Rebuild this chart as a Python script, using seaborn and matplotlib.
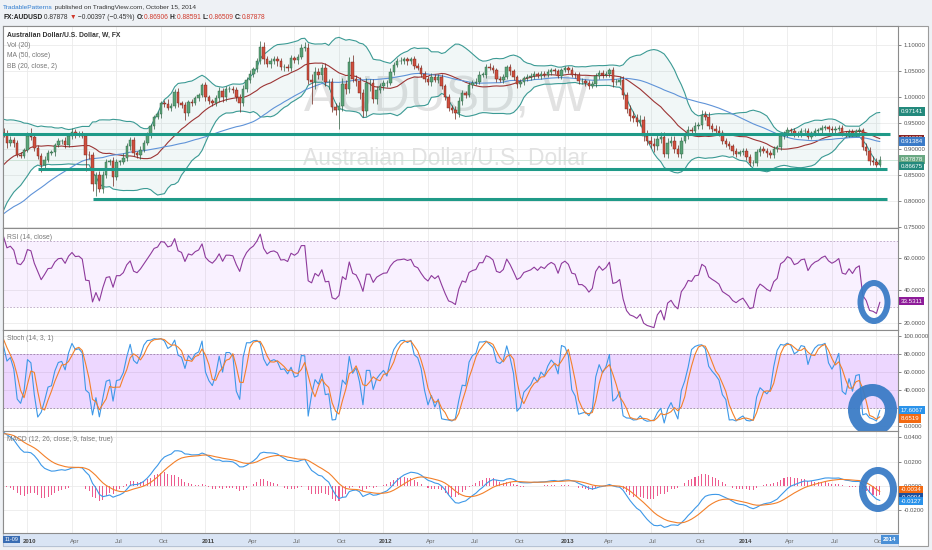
import numpy as np
import pandas as pd
import matplotlib
matplotlib.use('Agg')
import matplotlib.pyplot as plt
import matplotlib.patches as mpatches
import matplotlib.transforms as mtransforms
from matplotlib.ticker import FormatStrFormatter
import seaborn as sns

# weekly closes before the visible window (only used to warm up MA50 / BB / MACD)
warmup_close = [0.6530, 0.6420, 0.6600, 0.6920, 0.6920, 0.7180, 0.7020, 0.6720, 0.6480, 0.6370,
                0.6640, 0.6580, 0.6430, 0.6380, 0.6330, 0.6560, 0.6840, 0.6950, 0.7190, 0.7190,
                0.7070, 0.7230, 0.7280, 0.7530, 0.7440, 0.7800, 0.8010, 0.7990, 0.8060, 0.7920,
                0.8080, 0.7850, 0.7800, 0.8050, 0.8170, 0.8350, 0.8400, 0.8330, 0.8380, 0.8420,
                0.8600, 0.8670, 0.8790, 0.8690, 0.8810, 0.9020, 0.9240, 0.9180, 0.9030, 0.9280,
                0.9310]

# visible weekly closes, first week 2009-11-16
close_2009 = [0.9290, 0.9120, 0.9170, 0.9110, 0.8890, 0.8870, 0.8970]
close_2010 = [0.9250, 0.9230, 0.9020, 0.8860, 0.8680, 0.8790, 0.8920, 0.8930, 0.9070, 0.9150,
              0.9160, 0.9080, 0.9240, 0.9330, 0.9270, 0.9280, 0.9240, 0.8890, 0.8880, 0.8330,
              0.8500, 0.8220, 0.8490, 0.8740, 0.8760, 0.8450, 0.8750, 0.8750, 0.8830, 0.9050,
              0.9170, 0.8920, 0.8880, 0.8980, 0.9120, 0.9270, 0.9430, 0.9620, 0.9670, 0.9880,
              0.9870, 0.9790, 0.9830, 1.0090, 0.9880, 0.9850, 0.9680, 0.9900, 0.9880, 0.9980,
              1.0030, 1.0225]
close_2011 = [0.9990, 0.9920, 0.9880, 0.9970, 1.0120, 0.9990, 1.0150, 1.0150, 1.0140, 1.0000,
              0.9880, 1.0150, 1.0330, 1.0450, 1.0530, 1.0690, 1.0970, 1.0730, 1.0630, 1.0700,
              1.0720, 1.0690, 1.0570, 1.0580, 1.0550, 1.0740, 1.0710, 1.0770, 1.0950, 1.0950,
              1.0330, 1.0280, 1.0480, 1.0420, 1.0560, 1.0280, 1.0290, 0.9800, 0.9750, 0.9820,
              1.0240, 1.0160, 1.0680, 1.0350, 1.0300, 1.0080, 0.9720, 1.0260, 1.0260, 0.9960,
              1.0130, 1.0200]
close_2012 = [1.0260, 1.0270, 1.0480, 1.0620, 1.0690, 1.0700, 1.0720, 1.0690, 1.0720, 1.0590,
              1.0560, 1.0450, 1.0350, 1.0290, 1.0390, 1.0330, 1.0380, 1.0200, 1.0000, 0.9790,
              0.9750, 0.9680, 0.9920, 1.0070, 1.0040, 1.0230, 1.0270, 1.0290, 1.0430, 1.0430,
              1.0580, 1.0560, 1.0520, 1.0350, 1.0330, 1.0380, 1.0570, 1.0490, 1.0380, 1.0250,
              1.0280, 1.0360, 1.0380, 1.0400, 1.0440, 1.0400, 1.0450, 1.0430, 1.0480, 1.0510,
              1.0490, 1.0400, 1.0520]
close_2013 = [1.0550, 1.0520, 1.0430, 1.0420, 1.0300, 1.0300, 1.0270, 1.0210, 1.0240, 1.0400,
              1.0460, 1.0420, 1.0450, 1.0510, 1.0280, 1.0290, 1.0320, 1.0030, 0.9760, 0.9630,
              0.9590, 0.9520, 0.9560, 0.9250, 0.9150, 0.9100, 0.9050, 0.9180, 0.9230, 0.8900,
              0.9120, 0.9160, 0.9000, 0.8900, 0.9160, 0.9240, 0.9360, 0.9340, 0.9440, 0.9450,
              0.9660, 0.9620, 0.9440, 0.9390, 0.9350, 0.9300, 0.9150, 0.9100, 0.9050, 0.8950,
              0.8900, 0.8930]
close_2014 = [0.8950, 0.8850, 0.8720, 0.8730, 0.8930, 0.9000, 0.8960, 0.8910, 0.8880, 0.8990,
              0.9030, 0.9240, 0.9280, 0.9360, 0.9340, 0.9270, 0.9290, 0.9340, 0.9350, 0.9230,
              0.9300, 0.9340, 0.9360, 0.9400, 0.9420, 0.9380, 0.9360, 0.9380, 0.9410, 0.9290,
              0.9280, 0.9330, 0.9290, 0.9340, 0.9360, 0.9040, 0.8960, 0.8760, 0.8740, 0.86906,
              0.87878]

# wick lengths in pips above / below the candle body
up_2009 = [96, 70, 80, 60, 55, 40, 45]
dn_2009 = [60, 110, 60, 70, 50, 55, 40]
up_2010 = [65, 150, 40, 60, 50, 70, 55, 40, 45, 50, 35, 60, 40, 70, 45, 55, 60, 40, 70, 50,
           60, 70, 80, 60, 50, 90, 60, 40, 80, 55, 50, 60, 40, 70, 45, 60, 55, 40, 50, 45,
           60, 95, 50, 60, 80, 50, 60, 40, 55, 45, 50, 40]
dn_2010 = [40, 60, 70, 60, 130, 60, 50, 45, 60, 40, 50, 70, 40, 50, 60, 50, 40, 310, 80, 150,
           243, 50, 80, 60, 60, 170, 50, 60, 50, 60, 80, 50, 60, 70, 50, 40, 60, 50, 40, 70,
           60, 50, 70, 40, 80, 60, 130, 50, 50, 40, 60, 40]
up_2011 = [60, 50, 45, 60, 70, 55, 60, 50, 60, 45, 60, 70, 50, 60, 45, 50, 110, 80, 60, 50,
           60, 70, 50, 60, 55, 60, 45, 60, 70, 110, 80, 120, 90, 70, 80, 100, 60, 70, 90, 80,
           130, 80, 90, 120, 80, 90, 70, 110, 90, 80, 70, 60]
dn_2011 = [70, 50, 60, 50, 60, 80, 60, 55, 60, 80, 170, 60, 50, 60, 70, 50, 60, 90, 60, 70,
           60, 90, 60, 70, 55, 60, 50, 70, 50, 60, 90, 417, 120, 80, 90, 80, 120, 90, 100, 363,
           90, 100, 80, 70, 90, 120, 110, 80, 150, 70, 90, 60]
up_2012 = [60, 50, 70, 60, 50, 60, 55, 40, 50, 60, 70, 50, 45, 60, 70, 50, 60, 55, 50, 60,
           50, 70, 80, 60, 50, 60, 55, 70, 60, 50, 60, 80, 50, 45, 60, 70, 50, 60, 50, 45,
           60, 50, 55, 60, 50, 40, 45, 50, 60, 50, 45, 50, 40]
dn_2012 = [60, 70, 50, 60, 45, 50, 60, 70, 50, 60, 50, 60, 70, 60, 80, 50, 60, 50, 60, 70,
           60, 100, 60, 80, 70, 50, 60, 50, 45, 50, 60, 50, 60, 70, 50, 60, 45, 60, 50, 70,
           60, 50, 45, 50, 60, 40, 50, 45, 40, 50, 45, 40, 50]
up_2013 = [50, 45, 60, 50, 55, 60, 45, 50, 60, 55, 50, 60, 45, 50, 70, 60, 80, 90, 70, 80,
           100, 80, 90, 80, 110, 90, 100, 80, 90, 100, 80, 90, 80, 70, 60, 80, 70, 60, 80, 70,
           90, 70, 80, 60, 70, 80, 60, 50, 60, 50, 60, 50]
dn_2013 = [45, 60, 50, 60, 45, 50, 60, 50, 45, 50, 60, 50, 45, 60, 90, 50, 60, 70, 80, 90,
           70, 80, 90, 100, 80, 90, 110, 80, 70, 52, 70, 60, 80, 60, 70, 50, 60, 70, 60, 50,
           60, 70, 50, 60, 70, 60, 50, 60, 50, 60, 50, 45]
up_2014 = [60, 70, 50, 60, 70, 60, 50, 60, 70, 60, 50, 60, 70, 60, 50, 60, 45, 60, 50, 45,
           50, 60, 45, 50, 40, 45, 50, 60, 45, 50, 60, 50, 45, 50, 60, 40, 70, 80, 110, 90, 71]
dn_2014 = [50, 60, 60, 50, 60, 70, 50, 60, 50, 60, 50, 60, 50, 60, 70, 50, 45, 60, 50, 45,
           50, 45, 60, 50, 45, 50, 60, 50, 45, 50, 60, 50, 45, 50, 40, 60, 80, 70, 60, 45, 39]

# hand-drawn support / resistance lines: level, start week, end week
support_levels = [0.929, 0.861, 0.804]
support_start = ['2009-11-02', '2010-01-25', '2010-05-17']
support_end = ['2014-11-03', '2014-10-27', '2014-10-27']

# last-value tags on the right axis
price_tags = [(0.97141, '0.97141', '#23897c'), (0.91908, '0.91908', '#872323'),
              (0.91384, '0.91384', '#3b7bc8'), (0.87878, '0.87878', '#6aa883'),
              (0.86675, '0.86675', '#23897c')]
rsi_tags = [(33.5311, '33.5311', '#8e1c99')]
stoch_tags = [(17.6067, '17.6067', '#2b93ea'), (8.6519, '8.6519', '#f36a12')]
macd_tags = [(-0.0034, '-0.0034', '#f36a12'), (-0.0094, '-0.0094', '#1d4f9c'),
             (-0.0127, '-0.0127', '#2b93ea')]

# ---------------------------------------------------------------- data frame
vis_close = close_2009 + close_2010 + close_2011 + close_2012 + close_2013 + close_2014
up_pips = up_2009 + up_2010 + up_2011 + up_2012 + up_2013 + up_2014
dn_pips = dn_2009 + dn_2010 + dn_2011 + dn_2012 + dn_2013 + dn_2014
n_warm = len(warmup_close)

closes = np.array(warmup_close + vis_close)
opens = np.r_[closes[0], closes[:-1]]
wick_up = np.r_[np.zeros(n_warm), up_pips] * 1e-4
wick_dn = np.r_[np.zeros(n_warm), dn_pips] * 1e-4
first_week = pd.Timestamp('2009-11-16')
df = pd.DataFrame({
    'idx': np.arange(len(closes)) - n_warm,
    'date': first_week + pd.to_timedelta((np.arange(len(closes)) - n_warm) * 7, unit='D'),
    'open': opens, 'close': closes,
    'high': np.maximum(opens, closes) + wick_up,
    'low': np.minimum(opens, closes) - wick_dn,
})

s = df['close']
df['ma50'] = s.rolling(50).mean()
df['basis'] = s.rolling(20).mean()
sd = s.rolling(20).std(ddof=0)
df['upper'] = df['basis'] + 2 * sd
df['lower'] = df['basis'] - 2 * sd
delta = s.diff()
gain = delta.clip(lower=0).ewm(alpha=1 / 14, adjust=False).mean()
loss = (-delta.clip(upper=0)).ewm(alpha=1 / 14, adjust=False).mean()
df['rsi'] = 100 - 100 / (1 + gain / loss)
hh = df['high'].rolling(14).max()
ll = df['low'].rolling(14).min()
df['k'] = 100 * (s - ll) / (hh - ll)
df['d'] = df['k'].rolling(3).mean()
df['macd'] = s.ewm(span=12, adjust=False).mean() - s.ewm(span=26, adjust=False).mean()
df['signal'] = df['macd'].ewm(span=9, adjust=False).mean()
df['hist'] = df['macd'] - df['signal']
vis = df[df['idx'] >= 0].reset_index(drop=True)

# quarterly ticks at the first bar of Jan / Apr / Jul / Oct
new_month = vis['date'].dt.month != vis['date'].shift().dt.month
qmask = new_month & vis['date'].dt.month.isin([1, 4, 7, 10])
tick_idx = vis.loc[qmask, 'idx'].tolist()
tick_lab = [str(d.year) if d.month == 1 else d.strftime('%b') for d in vis.loc[qmask, 'date']]

# ---------------------------------------------------------------- figure
sns.set_theme(style='white')
plt.rcParams['font.family'] = ['Liberation Sans', 'DejaVu Sans']

W, H = 932, 550
fig = plt.figure(figsize=(W / 100, H / 100), dpi=100, facecolor='#eef1f5')


def frect(x0, y0, x1, y1):
    return [x0 / W, 1 - y1 / H, (x1 - x0) / W, (y1 - y0) / H]


fig.add_artist(mpatches.Rectangle((3 / W, 1 - 546 / H), 925 / W, 520 / H, transform=fig.transFigure,
                                  fc='white', ec='#9c9c9c', lw=0.8, zorder=0))
fig.add_artist(mpatches.Rectangle((3 / W, 1 - 546 / H), 895 / W, 13 / H, transform=fig.transFigure,
                                  fc='#d9e4f4', ec='#b5c4da', lw=0.5, zorder=0.5))

ax_p = fig.add_axes(frect(3, 26, 898, 228))
ax_r = fig.add_axes(frect(3, 228, 898, 330))
ax_s = fig.add_axes(frect(3, 330, 898, 431))
ax_m = fig.add_axes(frect(3, 431, 898, 533))
axes = [ax_p, ax_r, ax_s, ax_m]
xlim = (-0.15, 261.3)

for ax in axes:
    ax.set_zorder(2)
    ax.set_facecolor('white')
    ax.set_xlim(*xlim)
    for sp in ax.spines.values():
        sp.set_color('#8c8c8c')
        sp.set_linewidth(0.8)
    ax.set_xticks(tick_idx)
    ax.grid(True, color='#ebebeb', lw=0.6)
    ax.set_axisbelow(True)
    ax.yaxis.tick_right()
    ax.tick_params(axis='y', right=True, left=False, labelsize=4.3, colors='#555555',
                   length=2.5, width=0.5, pad=1.5)
    ax.tick_params(axis='x', length=0, labelbottom=False)

# ---------------------------------------------------------------- price pane
ax_p.text(447 / W, 1 - 99 / H, 'AUDUSD, W', transform=fig.transFigure, fontsize=36,
          color='#e2e2e2', ha='center', va='center', zorder=0.6)
ax_p.text(445 / W, 1 - 158 / H, 'Australian Dollar/U.S. Dollar', transform=fig.transFigure,
          fontsize=16.5, color='#e2e2e2', ha='center', va='center', zorder=0.6)

ax_p.fill_between(vis['idx'], vis['lower'], vis['upper'], color='#198787', alpha=0.06, lw=0, zorder=1)
for col, color in [('upper', '#3b9a94'), ('lower', '#3b9a94'), ('basis', '#9c3535'), ('ma50', '#5f93d8')]:
    sns.lineplot(data=vis, x='idx', y=col, ax=ax_p, color=color, lw=0.8, legend=False, zorder=2)
ax_p.axhline(vis['close'].iloc[-1], color='#c9e0d2', lw=0.6, zorder=1.5)

bull = vis['close'] >= vis['open']
for mask, fc, ec in [(bull, '#5aa378', '#2b5e40'), (~bull, '#cf4f3e', '#6e2219')]:
    sub = vis[mask]
    ax_p.vlines(sub['idx'], sub['low'], sub['high'], color=ec, lw=0.5, zorder=3)
    ax_p.bar(sub['idx'], (sub['close'] - sub['open']).abs().clip(lower=0.0007),
             bottom=np.minimum(sub['open'], sub['close']), width=0.72, color=fc,
             edgecolor=ec, lw=0.3, zorder=4)

for lvl, a, b in zip(support_levels, support_start, support_end):
    xa = (pd.Timestamp(a) - first_week).days / 7
    xb = (pd.Timestamp(b) - first_week).days / 7
    ax_p.plot([xa, xb], [lvl, lvl], color='#1f9a88', lw=2.2, solid_capstyle='butt', zorder=5)

ax_p.set_ylim(0.7475, 1.1365)
ax_p.set_yticks(np.arange(0.75, 1.101, 0.05))
ax_p.yaxis.set_major_formatter(FormatStrFormatter('%.5f'))

# ---------------------------------------------------------------- RSI pane
ax_r.axhspan(30, 70, color='#9915ff', alpha=0.06, lw=0)
for lvl in (30, 70):
    ax_r.axhline(lvl, color='#b9a3c4', lw=0.6, ls=(0, (2, 2)))
sns.lineplot(data=vis, x='idx', y='rsi', ax=ax_r, color='#8e3a9c', lw=0.8, legend=False)
ax_r.set_ylim(15.9, 78.1)
ax_r.set_yticks([20, 40, 60])
ax_r.yaxis.set_major_formatter(FormatStrFormatter('%.4f'))

# ---------------------------------------------------------------- Stoch pane
ax_s.axhspan(20, 80, color='#9915ff', alpha=0.17, lw=0)
for lvl in (20, 80):
    ax_s.axhline(lvl, color='#9a7fa8', lw=0.6, ls=(0, (2, 2)))
sns.lineplot(data=vis, x='idx', y='k', ax=ax_s, color='#3d98e8', lw=0.8, legend=False)
sns.lineplot(data=vis, x='idx', y='d', ax=ax_s, color='#f3802a', lw=0.8, legend=False)
ax_s.set_ylim(-5.6, 106.7)
ax_s.set_yticks([0, 20, 40, 60, 80, 100])
ax_s.yaxis.set_major_formatter(FormatStrFormatter('%.4f'))

# ---------------------------------------------------------------- MACD pane
ax_m.bar(vis['idx'], vis['hist'], width=0.3, color='#ec5b8e', lw=0)
sns.lineplot(data=vis, x='idx', y='macd', ax=ax_m, color='#3d98e8', lw=0.8, legend=False)
sns.lineplot(data=vis, x='idx', y='signal', ax=ax_m, color='#f3802a', lw=0.8, legend=False)
ax_m.set_ylim(-0.039, 0.0452)
ax_m.set_yticks([-0.02, 0.0, 0.02, 0.04])
ax_m.yaxis.set_major_formatter(FormatStrFormatter('%.4f'))
ax_m.set_xticks(tick_idx, tick_lab)
ax_m.tick_params(axis='x', labelbottom=True, labelsize=4.4, colors='#666666', pad=4.5)
shift = mtransforms.ScaledTranslation(2.5 / 100, 0, fig.dpi_scale_trans)
for t in ax_m.get_xticklabels():
    t.set_transform(t.get_transform() + shift)
    if t.get_text().isdigit():
        t.set_fontweight('bold')
        t.set_color('#444444')

for ax in axes:
    ax.set_xlim(*xlim)
    ax.set(xlabel='', ylabel='')
    for lab in ax.get_yticklabels():
        lab.set_color('#555555')


# ---------------------------------------------------------------- right-edge tags
def edge_tags(ax, tags):
    tr = mtransforms.blended_transform_factory(ax.transAxes, ax.transData)
    for val, txt, fc in tags:
        ax.text(1.0 + 2.5 / 895, val, txt, transform=tr, ha='left', va='center', fontsize=4.4,
                color='white', clip_on=False, zorder=10,
                bbox=dict(boxstyle='square,pad=0.3', fc=fc, ec='none'))


edge_tags(ax_p, price_tags)
edge_tags(ax_r, rsi_tags)
edge_tags(ax_s, stoch_tags)
edge_tags(ax_m, macd_tags)

# ---------------------------------------------------------------- blue rings
ident = mtransforms.IdentityTransform()
for ax, cx, cy, w, h, lw in [(ax_r, 874, 302, 27, 38, 6), (ax_s, 872.5, 410, 37, 40, 12),
                             (ax_m, 878, 489.5, 31, 38, 7)]:
    ax.add_patch(mpatches.Ellipse((cx, H - cy), w, h, transform=ident, fill=False,
                                  ec='#3b7cc6', lw=lw * 0.72, alpha=0.95, zorder=12))

# ---------------------------------------------------------------- texts
fig.canvas.draw()
renderer = fig.canvas.get_renderer()


def run_text(x, y, parts, size):
    for txt, color, weight in parts:
        t = fig.text(x / W, 1 - y / H, txt, color=color, fontsize=size, fontweight=weight,
                     ha='left', va='center')
        x += t.get_window_extent(renderer).width


red = '#d0392b'
run_text(3, 7.5, [('TradablePatterns', '#2e7bcf', 'normal'),
                  (' published on TradingView.com, October 15, 2014', '#333333', 'normal')], 4.65)
run_text(3, 17.5, [('FX:AUDUSD', '#222222', 'bold'), (' 0.87878 ', '#333333', 'normal'),
                   ('▼', red, 'normal'), (' −0.00397 (−0.45%) ', '#333333', 'normal'),
                   ('O:', '#222222', 'bold'), ('0.86906 ', red, 'normal'),
                   ('H:', '#222222', 'bold'), ('0.88591 ', red, 'normal'),
                   ('L:', '#222222', 'bold'), ('0.86509 ', red, 'normal'),
                   ('C:', '#222222', 'bold'), ('0.87878', red, 'normal')], 4.8)

fig.text(7 / W, 1 - 35.5 / H, 'Australian Dollar/U.S. Dollar, W, FX', fontsize=4.9,
         color='#333333', fontweight='bold', va='center', zorder=20)
for y, txt in [(45.7, 'Vol (20)'), (55.7, 'MA (50, close)'), (66, 'BB (20, close, 2)')]:
    fig.text(7 / W, 1 - y / H, txt, fontsize=4.9, color='#777777', va='center', zorder=20)
fig.text(7 / W, 1 - 237.5 / H, 'RSI (14, close)', fontsize=4.9, color='#777777', va='center', zorder=20)
fig.text(7 / W, 1 - 338.5 / H, 'Stoch (14, 3, 1)', fontsize=4.9, color='#777777', va='center', zorder=20)
fig.text(7 / W, 1 - 439.5 / H, 'MACD (12, 26, close, 9, false, true)', fontsize=4.9,
         color='#777777', va='center', zorder=20)

fig.text(4.5 / W, 1 - 539.5 / H, '11-09', fontsize=4.0, color='white', va='center',
         zorder=20, bbox=dict(boxstyle='square,pad=0.25', fc='#3a6db3', ec='none'))
fig.text(883 / W, 1 - 539.5 / H, '2014', fontsize=4.4, color='white', fontweight='bold', va='center',
         zorder=20, bbox=dict(boxstyle='square,pad=0.35', fc='#4a8fd6', ec='none'))

fig.savefig('out.png', dpi=100, facecolor=fig.get_facecolor())
